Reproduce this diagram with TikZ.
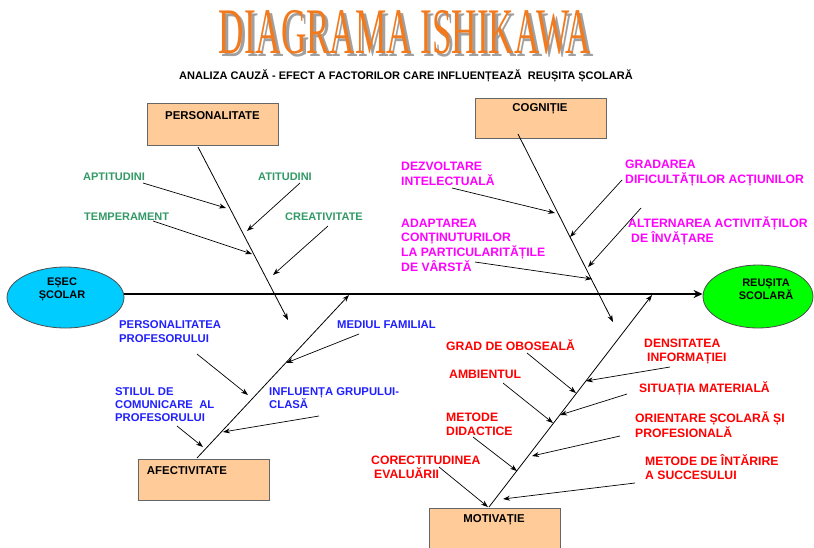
\documentclass[tikz,border=0pt]{standalone}
\usepackage{fontspec}
\setmainfont{Liberation Sans}
\newfontfamily\titlefont{Liberation Serif}
\usetikzlibrary{arrows.meta,shapes.geometric}
\definecolor{boxfill}{HTML}{FFCC99}
\definecolor{boxedge}{HTML}{666666}
\definecolor{cyanfill}{HTML}{00CCFF}
\definecolor{greenfill}{HTML}{00FF00}
\definecolor{tgreen}{HTML}{339966}
\definecolor{tmag}{HTML}{FF00FF}
\definecolor{tblue}{HTML}{2020FF}
\definecolor{tred}{HTML}{FF0000}
\definecolor{torange}{HTML}{F27A1E}
\definecolor{tshadow}{HTML}{A0A0A0}
\newcommand{\fs}[2]{\fontsize{#1}{#2}\selectfont\bfseries}
\newcommand{\ttl}{\scalebox{0.54}[1]{DIAGRAMA ISHIKAWA}}
\tikzset{
  lbl/.style={font=\fs{11}{14.5}, anchor=west, align=left, inner sep=0pt},
  glbl/.style={lbl, text=tgreen, font=\fs{11}{14.5}},
  blbl/.style={lbl, text=tblue, font=\fs{11.3}{14}},
  mlbl/.style={lbl, text=tmag, font=\fs{12.2}{15}},
  rlbl/.style={lbl, text=tred, font=\fs{12.2}{14}},
  cattext/.style={font=\fs{11.4}{13}, inner sep=0pt},
  elltext/.style={font=\fs{11}{13}, inner sep=0pt, align=center},
  bone/.style={line width=0.8pt, -{Stealth[length=7pt,width=5pt]}},
  sub/.style={line width=0.7pt, -{Stealth[length=7pt,width=5pt]}},
  endell/.style={draw=black!70, line width=0.8pt, ellipse},
}
\begin{document}
\begin{tikzpicture}[x=1pt,y=-1pt]
\useasboundingbox (0,0) rectangle (814,547);
% title with shadow (one node)
\node[font=\titlefont\fontsize{65}{65}\selectfont, inner sep=0pt] (title) at (405,33.5)
  {\makebox[0pt][l]{\hspace{3pt}\raisebox{-3pt}{\textcolor{tshadow}{\ttl}}}\textcolor{torange}{\ttl}};
\node[font=\fs{11}{12}, inner sep=0pt] (subtitle) at (406,75.5) {ANALIZA CAUZĂ - EFECT A FACTORILOR CARE INFLUENȚEAZĂ \ REUȘITA ȘCOLARĂ};

% category boxes
\fill[boxfill, draw=boxedge, line width=0.9pt] (147,103) rectangle (278,145);
\coordinate (persS) at (198,147);
\node[cattext] (pers) at (212.5,116) {PERSONALITATE};
\fill[boxfill, draw=boxedge, line width=0.9pt] (475,98) rectangle (606,138);
\coordinate (cogS) at (518,134);
\node[cattext] (cog) at (540,109) {COGNIȚIE};
\fill[boxfill, draw=boxedge, line width=0.9pt] (138,459) rectangle (269,500);
\coordinate (afS) at (197,458);
\node[cattext] (af) at (187,471) {AFECTIVITATE};
\fill[boxfill, draw=boxedge, line width=0.9pt] (429,508) rectangle (560,560);
\coordinate (motS) at (489,507);
\node[cattext] (mot) at (494,520) {MOTIVAȚIE};

% ellipses
\node[endell, fill=cyanfill, minimum width=117pt, minimum height=61pt, inner sep=0pt] (esec) at (65.5,297.5) {};
\node[elltext] at (62,289.5) {EȘEC\\ȘCOLAR};
\node[endell, fill=greenfill, minimum width=110pt, minimum height=63pt, inner sep=0pt] (reus) at (758,296.5) {};
\node[elltext] at (766,289.5) {REUȘITA\\SCOLARĂ};

% spine
\draw[line width=2.6pt, -{Stealth[length=9pt,width=8pt]}] (esec.east |- 0,294) -- (reus.west |- 0,294);

% main bones
\coordinate (persE) at (288,320);
\coordinate (cogE) at (613,322);
\coordinate (afE) at (349,295);
\coordinate (motE) at (652,295);
\draw[bone] (persS) -- (persE);
\draw[bone] (cogS) -- (cogE);
\draw[bone] (afS) -- (afE);
\draw[bone] (motS) -- (motE);

% green labels
\node[glbl] (apt) at (83,177) {APTITUDINI};
\node[glbl] (atit) at (258,177) {ATITUDINI};
\node[glbl] (temp) at (84,217) {TEMPERAMENT};
\node[glbl] (creat) at (285,217) {CREATIVITATE};
\coordinate (aptS) at (143,183); \coordinate (aptE) at (226,208);
\coordinate (atitS) at (300,183); \coordinate (atitE) at (247,231);
\coordinate (tempS) at (153,221); \coordinate (tempE) at (252,254);
\coordinate (creatS) at (328,226); \coordinate (creatE) at (273,275);
\draw[sub] (aptS) -- (aptE);
\draw[sub] (atitS) -- (atitE);
\draw[sub] (tempS) -- (tempE);
\draw[sub] (creatS) -- (creatE);

% magenta labels
\node[mlbl] (dezv) at (401,173.5) {DEZVOLTARE\\INTELECTUALĂ};
\node[mlbl] (grad) at (625,173.5) {GRADAREA\\DIFICULTĂȚILOR ACȚIUNILOR};
\node[mlbl, font=\fs{12.2}{14.7}] (adapt) at (401,245) {ADAPTAREA\\CONȚINUTURILOR\\LA PARTICULARITĂȚILE\\DE VÂRSTĂ};
\node[mlbl] (alt) at (628,230.5) {ALTERNAREA ACTIVITĂȚILOR\\\hspace*{3pt}DE ÎNVĂȚARE};
\coordinate (dezvS) at (452,188); \coordinate (dezvE) at (555,213);
\coordinate (gradS) at (622,180); \coordinate (gradE) at (570,237);
\coordinate (altS) at (641,208); \coordinate (altE) at (588,267);
\coordinate (adaptS) at (475,262); \coordinate (adaptE) at (592,279);
\draw[sub] (dezvS) -- (dezvE);
\draw[sub] (gradS) -- (gradE);
\draw[sub] (altS) -- (altE);
\draw[sub] (adaptS) -- (adaptE);

% blue labels
\node[blbl] (perspr) at (119,332) {PERSONALITATEA\\PROFESORULUI};
\node[blbl] (mediu) at (337,325) {MEDIUL FAMILIAL};
\node[blbl, font=\fs{11.3}{12.8}] (stil) at (115,404.5) {STILUL DE\\COMUNICARE \ AL\\PROFESORULUI};
\node[blbl, font=\fs{11.3}{12.8}] (infl) at (269,398) {INFLUENȚA GRUPULUI-\\CLASĂ};
\coordinate (persprS) at (197,354); \coordinate (persprE) at (248,395);
\coordinate (mediuS) at (359,334); \coordinate (mediuE) at (286,363);
\coordinate (stilS) at (177,426); \coordinate (stilE) at (203,447);
\coordinate (inflS) at (319,416); \coordinate (inflE) at (223,432);
\draw[sub] (persprS) -- (persprE);
\draw[sub] (mediuS) -- (mediuE);
\draw[sub] (stilS) -- (stilE);
\draw[sub] (inflS) -- (inflE);

% red labels
\node[rlbl] (obos) at (446,345) {GRAD DE OBOSEALĂ};
\node[rlbl] (dens) at (644,352) {DENSITATEA\\\hspace*{3pt}INFORMAȚIEI};
\node[rlbl] (amb) at (449,374) {AMBIENTUL};
\node[rlbl] (sit) at (639,388) {SITUAȚIA MATERIALĂ};
\node[rlbl, font=\fs{12.2}{13.5}] (metd) at (446,424.5) {METODE\\DIDACTICE};
\node[rlbl, font=\fs{12.2}{13.5}] (orient) at (635,424.5) {ORIENTARE ȘCOLARĂ ȘI\\PROFESIONALĂ};
\node[rlbl] (corect) at (371,467) {CORECTITUDINEA\\\hspace*{3pt}EVALUĂRII};
\node[rlbl] (intar) at (645,467) {METODE DE ÎNTĂRIRE\\A SUCCESULUI};
\coordinate (obosS) at (527,353); \coordinate (obosE) at (576,393);
\coordinate (densS) at (670,367); \coordinate (densE) at (586,381);
\coordinate (ambS) at (503,383); \coordinate (ambE) at (553,423);
\coordinate (sitS) at (627,394); \coordinate (sitE) at (560,415);
\coordinate (metdS) at (473,437); \coordinate (metdE) at (517,471);
\coordinate (orientS) at (620,436); \coordinate (orientE) at (532,456);
\coordinate (corectS) at (439,467); \coordinate (corectE) at (488,507);
\coordinate (intarS) at (635,483); \coordinate (intarE) at (503,499);
\draw[sub] (obosS) -- (obosE);
\draw[sub] (densS) -- (densE);
\draw[sub] (ambS) -- (ambE);
\draw[sub] (sitS) -- (sitE);
\draw[sub] (metdS) -- (metdE);
\draw[sub] (orientS) -- (orientE);
\draw[sub] (corectS) -- (corectE);
\draw[sub] (intarS) -- (intarE);
\end{tikzpicture}
\end{document}
